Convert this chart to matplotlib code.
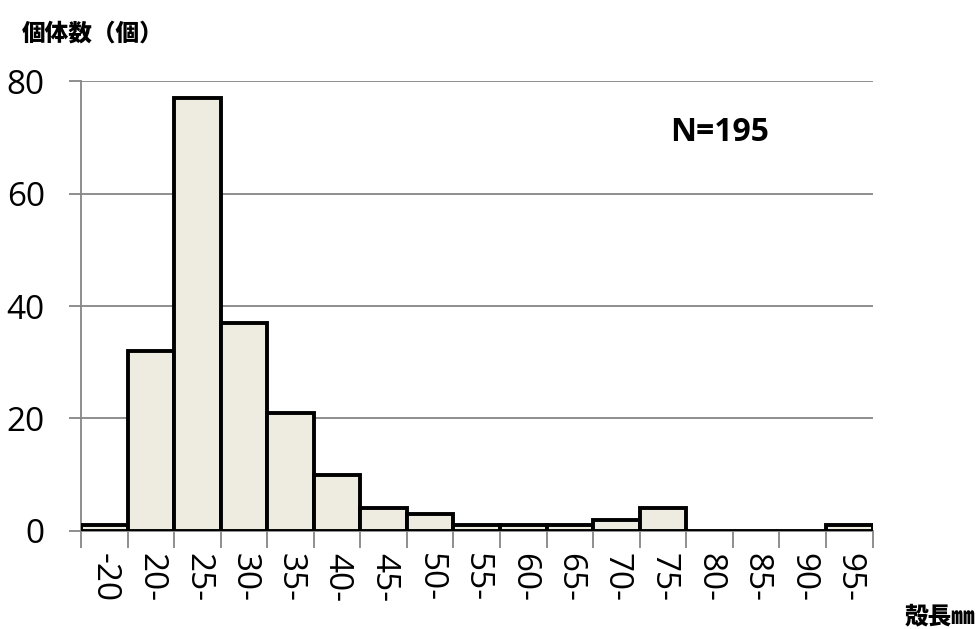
import numpy as np
import matplotlib
matplotlib.use("Agg")
import matplotlib.pyplot as plt
from matplotlib.ticker import FixedLocator

# 殻長階級と個体数
classes = ['-20', '20-', '25-', '30-', '35-', '40-', '45-', '50-', '55-',
           '60-', '65-', '70-', '75-', '80-', '85-', '90-', '95-']
counts = [1, 32, 77, 37, 21, 10, 4, 3, 1, 1, 1, 2, 4, 0, 0, 0, 1]
y_ticks = [0, 20, 40, 60, 80]

plt.rcParams['font.family'] = ['Open Sans', 'Noto Sans CJK JP', 'DejaVu Sans']
gray = '#868686'

fig = plt.figure(figsize=(9.76, 6.29), dpi=100)
ax = fig.add_axes([0.083, 0.156, 0.811, 0.715])

x = np.arange(len(classes))
ax.bar(x, counts, width=1.0, color='#EEECE1', edgecolor='black', linewidth=2.8, zorder=3)

ax.set_xlim(-0.5, len(classes) - 0.5)
ax.set_ylim(0, 80)
ax.set_yticks(y_ticks)
ax.yaxis.grid(True, color=gray, linewidth=1.3, zorder=0)

# 目盛り: 階級の境界に線、中心にラベル
ax.set_xticks(x)
ax.set_xticklabels(classes, rotation=-90, fontsize=24)
ax.xaxis.set_minor_locator(FixedLocator(np.arange(len(classes) + 1) - 0.5))
ax.tick_params(axis='x', which='major', length=0, pad=16)
ax.tick_params(axis='x', which='minor', length=12, width=1.3, color=gray)
ax.tick_params(axis='y', length=9, width=1.3, color=gray, labelsize=24, pad=17)

for s in ['top', 'right']:
    ax.spines[s].set_visible(False)
for s in ['left', 'bottom']:
    ax.spines[s].set_color(gray)
    ax.spines[s].set_linewidth(1.3)

ax.text(0.807, 0.885, 'N=195', transform=ax.transAxes, fontsize=23,
        fontweight='bold', ha='center', va='center')
fig.text(0.022, 0.947, '個体数（個）', fontsize=17, fontweight='heavy',
         family=['Noto Sans CJK JP', 'DejaVu Sans'], ha='left', va='center')
fig.text(0.999, 0.020, '殻長㎜', fontsize=17, fontweight='heavy',
         family=['Noto Sans CJK JP', 'DejaVu Sans'], ha='right', va='center')

fig.savefig('out.png', dpi=100)
